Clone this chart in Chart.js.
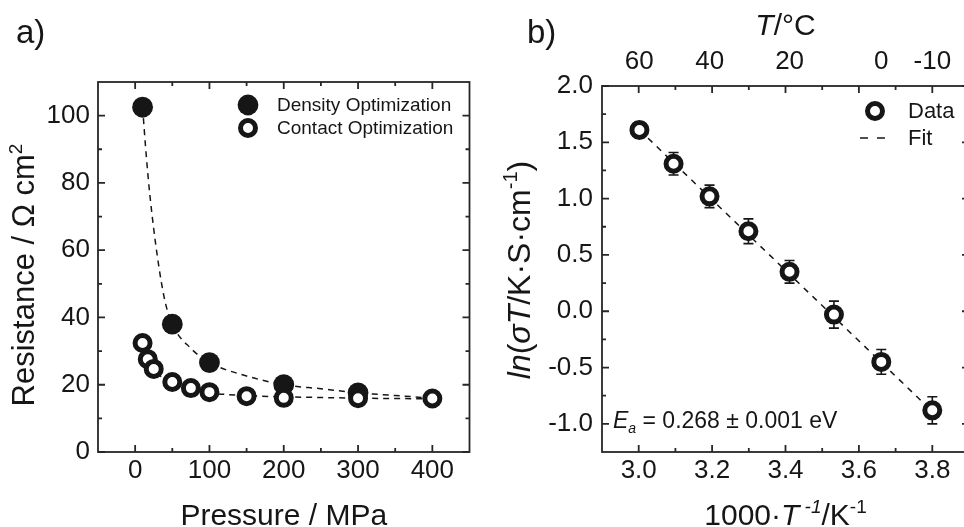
<!DOCTYPE html>
<html>
<head>
<meta charset="utf-8">
<script src="https://cdn.jsdelivr.net/npm/chart.js@4.4.0/dist/chart.umd.min.js"></script>
<style>
    html, body { margin: 0; padding: 0; background: #fff; overflow: hidden; width: 964px; height: 527px; }
    #wrapA { position: absolute; left: 0; top: 0; width: 482px; height: 527px; }
    #wrapB { position: absolute; left: 482px; top: 0; width: 500px; height: 527px; }
</style>
</head>
<body>
<div id="wrapA"><canvas id="chartA" width="482" height="527"></canvas></div>
<div id="wrapB"><canvas id="chartB" width="500" height="527"></canvas></div>
<script>
const FONT = "'Liberation Sans', Arial, Helvetica, sans-serif";
const INK = '#161616';

// ---- panel a : resistance vs pressure ----
const densityPressure = [10, 50, 100, 200, 300];
const densityResistance = [102.5, 38, 26.6, 20, 17.6];
const contactPressure = [10, 17, 25, 50, 75, 100, 150, 200, 300, 400];
const contactResistance = [32.4, 27.6, 24.7, 20.8, 19, 17.8, 16.6, 16.1, 16, 15.9];
const densityFitP = [10, 15, 20, 30, 40, 50, 75, 100, 150, 200, 250, 300, 350, 400];
const densityFitR = [102.5, 88, 76, 58, 45, 38, 30.8, 26.6, 22.6, 20, 18.8, 17.6, 16.8, 16];
const contactFitP = [10, 25, 50, 75, 100, 150, 200, 250, 300, 350, 400];
const contactFitR = [32.4, 24.7, 20.8, 18.9, 17.6, 16.8, 16.4, 16.2, 16, 15.9, 15.8];
const pressureTicks = [0, 100, 200, 300, 400];
const pressureMinor = [50, 150, 250, 350];
const resistTicks = [0, 20, 40, 60, 80, 100];
const resistMinor = [10, 30, 50, 70, 90];

// ---- panel b : arrhenius plot ----
const invT = [3.002, 3.095, 3.193, 3.299, 3.411, 3.532, 3.661, 3.800];
const lnSigmaT = [1.61, 1.31, 1.02, 0.71, 0.35, -0.03, -0.45, -0.88];
const lnErr = [0.07, 0.1, 0.1, 0.11, 0.1, 0.12, 0.11, 0.12];
const fitInvT = [3.002, 3.800];
const fitLn = [1.61, -0.89];
const invTTicks = [3.0, 3.2, 3.4, 3.6, 3.8];
const invTMinor = [3.1, 3.3, 3.5, 3.7];
const lnTicks = [-1.0, -0.5, 0.0, 0.5, 1.0, 1.5, 2.0];
const lnMinor = [-0.75, -0.25, 0.25, 0.75, 1.25, 1.75];
const tempCTicks = [60, 40, 20, 0, -10];

const xy = (xs, ys) => xs.map((x, i) => ({ x: x, y: ys[i] }));

function drawRich(ctx, parts, x, y, size, align) {
    const fontFor = p => `${p.i ? 'italic ' : ''}${(p.sup || p.sub) ? Math.round(size * 0.62) : size}px ${FONT}`;
    let total = 0;
    parts.forEach(p => { ctx.font = fontFor(p); p.w = ctx.measureText(p.t).width; total += p.w; });
    let cx = align === 'center' ? x - total / 2 : x;
    ctx.textBaseline = 'alphabetic';
    ctx.textAlign = 'left';
    parts.forEach(p => {
        ctx.font = fontFor(p);
        const dy = p.sup ? -size * 0.4 : (p.sub ? size * 0.22 : 0);
        ctx.fillText(p.t, cx, y + dy);
        cx += p.w;
    });
}

function drawRotated(ctx, parts, cx, cy, size) {
    ctx.save();
    ctx.translate(cx, cy);
    ctx.rotate(-Math.PI / 2);
    drawRich(ctx, parts, 0, size * 0.36, size, 'center');
    ctx.restore();
}

// box round the plot area with inward ticks on all four sides
function drawFrame(chart, xMajor, xMinor, yMajor, yMinor) {
    const ctx = chart.ctx, a = chart.chartArea;
    const xs = chart.scales.x, ys = chart.scales.y;
    ctx.save();
    ctx.strokeStyle = '#262626';
    ctx.lineWidth = 1.8;
    ctx.strokeRect(a.left, a.top, a.right - a.left, a.bottom - a.top);
    ctx.beginPath();
    const tick = (v, len, isX) => {
        if (isX) {
            const p = xs.getPixelForValue(v);
            ctx.moveTo(p, a.bottom); ctx.lineTo(p, a.bottom - len);
            ctx.moveTo(p, a.top); ctx.lineTo(p, a.top + len);
        } else {
            const p = ys.getPixelForValue(v);
            ctx.moveTo(a.left, p); ctx.lineTo(a.left + len, p);
            ctx.moveTo(a.right, p); ctx.lineTo(a.right - len, p);
        }
    };
    xMajor.forEach(v => tick(v, 7, true));
    xMinor.forEach(v => tick(v, 4, true));
    yMajor.forEach(v => tick(v, 7, false));
    yMinor.forEach(v => tick(v, 4, false));
    ctx.stroke();
    ctx.restore();
}

function marker(ctx, ds, x, y) {
    ctx.save();
    ctx.beginPath();
    ctx.arc(x, y, ds.pointRadius, 0, Math.PI * 2);
    ctx.fillStyle = ds.pointBackgroundColor;
    ctx.fill();
    if (ds.pointBorderWidth > 0) {
        ctx.lineWidth = ds.pointBorderWidth;
        ctx.strokeStyle = ds.pointBorderColor;
        ctx.stroke();
    }
    ctx.restore();
}

const tickFont = { family: FONT, size: 26 };

// ================= chart a =================
const dsContact = { label: 'Contact Optimization', data: xy(contactPressure, contactResistance),
    pointRadius: 7.5, pointBorderWidth: 5, pointBackgroundColor: '#fff', pointBorderColor: INK, order: 0 };
const dsDensity = { label: 'Density Optimization', data: xy(densityPressure, densityResistance),
    pointRadius: 10.4, pointBorderWidth: 0, pointBackgroundColor: INK, pointBorderColor: INK, order: 1 };

new Chart(document.getElementById('chartA'), {
    type: 'scatter',
    data: {
        datasets: [
            dsContact,
            dsDensity,
            { label: 'density fit', data: xy(densityFitP, densityFitR), showLine: true, pointRadius: 0,
              borderColor: INK, borderWidth: 1.5, borderDash: [6, 5], cubicInterpolationMode: 'monotone', order: 2 },
            { label: 'contact fit', data: xy(contactFitP, contactFitR), showLine: true, pointRadius: 0,
              borderColor: INK, borderWidth: 1.5, borderDash: [6, 5], cubicInterpolationMode: 'monotone', order: 2 }
        ]
    },
    options: {
        responsive: false, animation: false, events: [],
        layout: { padding: { top: 82, right: 12, left: 0, bottom: 0 } },
        plugins: { legend: { display: false }, tooltip: { enabled: false } },
        scales: {
            x: {
                type: 'linear', min: -50, max: 450,
                grid: { display: false, drawTicks: false }, border: { display: false },
                afterBuildTicks: s => { s.ticks = pressureTicks.map(v => ({ value: v })); },
                afterFit: s => { s.height = 75; },
                ticks: { padding: 3, font: tickFont, color: INK, autoSkip: false, maxRotation: 0, callback: v => String(v) }
            },
            y: {
                type: 'linear', min: 0, max: 110,
                grid: { display: false, drawTicks: false }, border: { display: false },
                afterBuildTicks: s => { s.ticks = resistTicks.map(v => ({ value: v })); },
                afterFit: s => { s.width = 98; },
                ticks: { padding: 8, font: tickFont, color: INK, autoSkip: false, callback: v => String(v) }
            }
        }
    },
    plugins: [{
        id: 'decorA',
        afterDraw(chart) {
            const ctx = chart.ctx, a = chart.chartArea;
            drawFrame(chart, pressureTicks, pressureMinor, resistTicks, resistMinor);
            ctx.save();
            ctx.fillStyle = INK;
            drawRich(ctx, [{ t: 'a)' }], 16, 43, 33, 'left');
            drawRotated(ctx, [{ t: 'Resistance / Ω cm' }, { t: '2', sup: true }], 23, 275, 31);
            drawRich(ctx, [{ t: 'Pressure / MPa' }], (a.left + a.right) / 2, 525, 30, 'center');
            // legend
            const lx = a.left + 150, ly = a.top + 23;
            marker(ctx, dsDensity, lx, ly);
            marker(ctx, dsContact, lx, ly + 23);
            ctx.fillStyle = INK;
            ctx.font = `19px ${FONT}`;
            ctx.textBaseline = 'middle';
            ctx.fillText(dsDensity.label, lx + 29, ly + 1);
            ctx.fillText(dsContact.label, lx + 29, ly + 24);
            ctx.restore();
        }
    }]
});

// ================= chart b =================
const dsData = { label: 'Data', data: xy(invT, lnSigmaT),
    pointRadius: 7.5, pointBorderWidth: 5, pointBackgroundColor: '#fff', pointBorderColor: INK, order: 0 };

new Chart(document.getElementById('chartB'), {
    type: 'scatter',
    data: {
        datasets: [
            dsData,
            { label: 'Fit', data: xy(fitInvT, fitLn), showLine: true, pointRadius: 0,
              borderColor: INK, borderWidth: 1.5, borderDash: [6, 6], order: 1 }
        ]
    },
    options: {
        responsive: false, animation: false, events: [],
        layout: { padding: { top: 0, right: 13, left: 0, bottom: 0 } },
        plugins: { legend: { display: false }, tooltip: { enabled: false } },
        scales: {
            x: {
                type: 'linear', position: 'bottom', min: 2.9, max: 3.9,
                grid: { display: false, drawTicks: false }, border: { display: false },
                afterBuildTicks: s => { s.ticks = invTTicks.map(v => ({ value: v })); },
                afterFit: s => { s.height = 75; },
                ticks: { padding: 3, font: tickFont, color: INK, autoSkip: false, maxRotation: 0, callback: v => v.toFixed(1) }
            },
            x2: {
                type: 'linear', axis: 'x', position: 'top', min: 2.9, max: 3.9,
                grid: { display: false, drawTicks: false }, border: { display: false },
                afterBuildTicks: s => { s.ticks = tempCTicks.map(t => ({ value: 1000 / (t + 273.15) })); },
                afterFit: s => { s.height = 86; },
                ticks: { padding: 9, font: tickFont, color: INK, autoSkip: false, maxRotation: 0,
                         callback: (v, i) => String(tempCTicks[i]) }
            },
            y: {
                type: 'linear', min: -1.25, max: 2.0,
                grid: { display: false, drawTicks: false }, border: { display: false },
                afterBuildTicks: s => { s.ticks = lnTicks.map(v => ({ value: v })); },
                afterFit: s => { s.width = 120; },
                ticks: { padding: 9, font: tickFont, color: INK, autoSkip: false, callback: v => v.toFixed(1) }
            }
        }
    },
    plugins: [{
        id: 'errorBars',
        beforeDatasetsDraw(chart) {
            const ctx = chart.ctx, xs = chart.scales.x, ys = chart.scales.y;
            ctx.save();
            ctx.strokeStyle = INK;
            ctx.lineWidth = 1.6;
            ctx.beginPath();
            invT.forEach((v, i) => {
                const px = xs.getPixelForValue(v);
                const top = ys.getPixelForValue(lnSigmaT[i] + lnErr[i]);
                const bot = ys.getPixelForValue(lnSigmaT[i] - lnErr[i]);
                ctx.moveTo(px, top); ctx.lineTo(px, bot);
                ctx.moveTo(px - 5, top); ctx.lineTo(px + 5, top);
                ctx.moveTo(px - 5, bot); ctx.lineTo(px + 5, bot);
            });
            ctx.stroke();
            ctx.restore();
        }
    }, {
        id: 'decorB',
        afterDraw(chart) {
            const ctx = chart.ctx, a = chart.chartArea;
            drawFrame(chart, invTTicks, invTMinor, lnTicks, lnMinor);
            ctx.save();
            ctx.fillStyle = INK;
            const mid = (a.left + a.right) / 2;
            drawRich(ctx, [{ t: 'b)' }], 45, 43, 33, 'left');
            drawRich(ctx, [{ t: 'T', i: true }, { t: '/°C' }], mid, 35, 30, 'center');
            drawRotated(ctx, [{ t: 'ln', i: true }, { t: '(' }, { t: 'σT', i: true }, { t: '/K·S·cm' },
                              { t: '-1', sup: true }, { t: ')' }], 36, 270, 32);
            drawRich(ctx, [{ t: '1000·' }, { t: 'T', i: true }, { t: ' -1', i: true, sup: true }, { t: '/K' },
                           { t: '-1', sup: true }], mid, 525, 30, 'center');
            drawRich(ctx, [{ t: 'E', i: true }, { t: 'a', i: true, sub: true }, { t: ' = 0.268 ± 0.001 eV' }],
                     a.left + 11, 428, 23, 'left');
            // legend
            const lx = a.left + 273, ly = a.top + 25;
            marker(ctx, dsData, lx, ly);
            ctx.strokeStyle = INK;
            ctx.lineWidth = 1.5;
            ctx.setLineDash([8, 9]);
            ctx.beginPath();
            ctx.moveTo(lx - 15, ly + 27); ctx.lineTo(lx + 10, ly + 27);
            ctx.stroke();
            ctx.setLineDash([]);
            ctx.fillStyle = INK;
            ctx.font = `22px ${FONT}`;
            ctx.textBaseline = 'middle';
            ctx.fillText('Data', lx + 33, ly + 1);
            ctx.fillText('Fit', lx + 33, ly + 28);
            ctx.restore();
        }
    }]
});
</script>
</body>
</html>
